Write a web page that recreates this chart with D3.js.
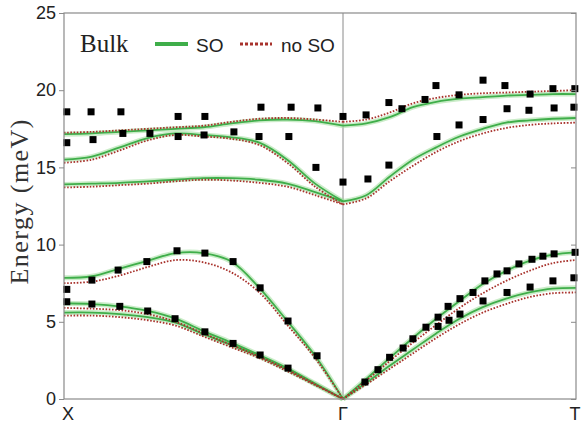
<!DOCTYPE html>
<html lang="en">
<head>
  <meta charset="UTF-8">
  <title>Bulk phonons</title>
  <script src="https://cdn.jsdelivr.net/npm/d3@7/dist/d3.min.js"></script>
  <style>
    body { margin: 0; background: #fff; }
  </style>
</head>
<body>
  <script>
    // k path: X = 0, Γ = 1, T = 2
    const kXG = [0, 0.1, 0.2, 0.3, 0.4, 0.5, 0.6, 0.7, 0.8, 0.9, 1]
    const kGT = [1, 1.1, 1.2, 1.3, 1.4, 1.5, 1.6, 1.7, 1.8, 1.9, 2]
    const kLabels = ['X', 'Γ', 'T']
    const kTicks = [0, 1, 2]
    const yTicks = [0, 5, 10, 15, 20, 25]

    // with spin-orbit, X -> Γ
    const soXG = [
      [5.6, 5.6, 5.5, 5.3, 4.95, 4.2, 3.5, 2.75, 1.9, 0.95, 0],
      [6.2, 6.15, 6.0, 5.7, 5.2, 4.4, 3.65, 2.85, 2.0, 1.0, 0],
      [7.85, 7.95, 8.45, 8.95, 9.45, 9.45, 8.9, 7.2, 5.05, 2.8, 0],
      [13.9, 13.95, 14.0, 14.1, 14.2, 14.3, 14.3, 14.2, 13.95, 13.4, 12.8],
      [15.5, 15.7, 16.3, 16.9, 17.2, 17.1, 16.95, 16.6, 15.5, 13.95, 12.8],
      [17.15, 17.2, 17.3, 17.4, 17.5, 17.6, 17.85, 18.05, 18.1, 18.0, 17.7]
    ]
    // with spin-orbit, Γ -> T
    const soGT = [
      [0, 1.05, 2.15, 3.2, 4.25, 5.2, 5.95, 6.5, 6.9, 7.15, 7.2],
      [0, 1.3, 2.65, 3.95, 5.2, 6.35, 7.45, 8.3, 8.95, 9.35, 9.5],
      [12.8, 13.2, 14.4, 15.5, 16.3, 17.0, 17.5, 17.9, 18.05, 18.15, 18.2],
      [17.7, 17.85, 18.25, 18.9, 19.25, 19.45, 19.55, 19.65, 19.7, 19.75, 19.75]
    ]
    // without spin-orbit
    const noSoXG = [
      [5.4, 5.4, 5.3, 5.1, 4.75, 4.05, 3.35, 2.65, 1.8, 0.9, 0],
      [5.9, 5.85, 5.75, 5.5, 5.0, 4.25, 3.5, 2.75, 1.9, 0.95, 0],
      [7.5, 7.6, 8.0, 8.55, 9.0, 8.85, 8.2, 6.9, 4.8, 2.65, 0],
      [13.7, 13.75, 13.85, 13.95, 14.1, 14.2, 14.15, 14.0, 13.75, 13.2, 12.6],
      [15.3, 15.5, 16.1, 16.75, 17.1, 17.0, 16.85, 16.45, 15.3, 13.75, 12.6],
      [17.25, 17.3, 17.4, 17.5, 17.6, 17.7, 17.95, 18.15, 18.2, 18.1, 17.95]
    ]
    const noSoGT = [
      [0, 0.95, 1.95, 2.95, 3.95, 4.85, 5.6, 6.15, 6.6, 6.85, 6.9],
      [0, 1.2, 2.45, 3.65, 4.8, 5.9, 6.85, 7.65, 8.3, 8.8, 9.0],
      [12.6, 13.0, 14.1, 15.1, 16.0, 16.7, 17.2, 17.55, 17.75, 17.85, 17.9],
      [17.95, 18.1, 18.55, 19.15, 19.5, 19.7, 19.8, 19.85, 19.9, 19.95, 20.0]
    ]

    // measured points
    const expK = [
      0.01, 0.097, 0.204, 0.409, 0.505, 0.706, 0.814, 0.91, 1.0,
      0.01, 0.104, 0.211, 0.308, 0.409, 0.502, 0.609, 0.699, 0.806, 0.903, 1.0,
      0.01, 0.10, 0.194, 0.297, 0.405, 0.505, 0.606, 0.703, 0.803, 0.907,
      0.01, 0.10, 0.20, 0.30, 0.398, 0.505, 0.606, 0.703, 0.803,
      1.099, 1.197, 1.253, 1.352, 1.399, 1.498, 1.601, 1.695, 1.803, 1.901, 1.995,
      1.107, 1.197, 1.403, 1.498, 1.601, 1.704, 1.798, 1.906, 1.991,
      1.094, 1.15, 1.20, 1.258, 1.30, 1.356, 1.408, 1.408, 1.455, 1.451, 1.502, 1.502, 1.558,
      1.601, 1.609, 1.661, 1.704, 1.704, 1.755, 1.811, 1.803, 1.858, 1.906, 1.901, 1.996, 1.991
    ]
    const expE = [
      18.6, 18.6, 18.6, 18.3, 18.3, 18.9, 18.9, 18.85, 18.3,
      16.6, 16.8, 17.2, 17.2, 17.0, 17.1, 17.3, 17.0, 17.0, 15.0, 14.05,
      7.1, 7.7, 8.35, 8.9, 9.6, 9.45, 8.9, 7.2, 5.05, 2.8,
      6.3, 6.15, 6.0, 5.7, 5.2, 4.35, 3.6, 2.85, 2.0,
      18.4, 19.2, 18.8, 19.4, 20.3, 19.7, 20.65, 20.3, 19.75, 20.1, 20.1,
      14.25, 15.15, 17.0, 17.75, 18.1, 18.8, 18.7, 18.85, 18.9,
      1.1, 1.9, 2.7, 3.3, 3.9, 4.65, 5.3, 4.7, 5.1, 6.0, 5.5, 6.5, 6.9,
      6.35, 7.65, 8.1, 6.9, 8.3, 8.75, 9.05, 7.25, 9.25, 9.4, 7.65, 9.5, 7.85
    ]

    const width = 582, height = 423
    const x = d3.scaleLinear().domain([0, 1, 2]).range([64, 343, 576])
    const y = d3.scaleLinear().domain([0, 25]).range([399, 13])

    const svg = d3.select('body').append('svg')
      .attr('width', width)
      .attr('height', height)

    // Γ line
    svg.append('line')
      .attr('x1', x(1)).attr('x2', x(1))
      .attr('y1', y(25)).attr('y2', y(0))
      .attr('stroke', '#8a8a8a').attr('stroke-width', 1)

    const line = d3.line()
      .x(d => x(d[0]))
      .y(d => y(d[1]))
      .curve(d3.curveCatmullRom.alpha(0.5))

    const segs = (ks, bands) => bands.map(b => b.map((e, i) => [ks[i], e]))
    const soPaths = segs(kXG, soXG).concat(segs(kGT, soGT))
    const noSoPaths = segs(kXG, noSoXG).concat(segs(kGT, noSoGT))

    // green glow + core
    svg.append('g').selectAll('path').data(soPaths).join('path')
      .attr('d', line).attr('fill', 'none')
      .attr('stroke', '#9fdc9a').attr('stroke-width', 5).attr('stroke-opacity', 0.55)
    svg.append('g').selectAll('path').data(soPaths).join('path')
      .attr('d', line).attr('fill', 'none')
      .attr('stroke', '#3fae4a').attr('stroke-width', 1.8)

    // red dotted
    svg.append('g').selectAll('path').data(noSoPaths).join('path')
      .attr('d', line).attr('fill', 'none')
      .attr('stroke', '#a8322c').attr('stroke-width', 1.8)
      .attr('stroke-dasharray', '1.6,1.6')

    // measured squares
    svg.append('g').selectAll('rect').data(expK).join('rect')
      .attr('x', d => x(d) - 3.5)
      .attr('y', (d, i) => y(expE[i]) - 3.5)
      .attr('width', 7).attr('height', 7)
      .attr('fill', '#000')

    // frame
    svg.append('rect')
      .attr('x', x(0)).attr('y', y(25))
      .attr('width', x(2) - x(0)).attr('height', y(0) - y(25))
      .attr('fill', 'none').attr('stroke', '#8a8a8a').attr('stroke-width', 1.2)

    const yAxis = d3.axisLeft(y).tickValues(yTicks).tickSize(5).tickPadding(3)
    const gy = svg.append('g').attr('transform', `translate(${x(0)},0)`).call(yAxis)
    gy.select('.domain').remove()
    gy.selectAll('.tick line').attr('stroke', '#8a8a8a')
    gy.selectAll('.tick text')
      .attr('font-family', 'Liberation Sans, Arial, sans-serif')
      .attr('font-size', 18).attr('fill', '#222')

    const yRight = d3.axisLeft(y).tickValues(yTicks).tickSize(5).tickFormat('')
    const gr = svg.append('g').attr('transform', `translate(${x(2)},0)`).call(yRight)
    gr.select('.domain').remove()
    gr.selectAll('.tick line').attr('stroke', '#8a8a8a')

    // k labels
    svg.append('g').selectAll('text').data(kTicks).join('text')
      .attr('x', (d, i) => i === 0 ? x(d) + 4 : (i === 2 ? x(d) - 1 : x(d)))
      .attr('y', 420)
      .attr('text-anchor', 'middle')
      .attr('font-family', 'Liberation Sans, Arial, sans-serif')
      .attr('font-size', 18).attr('fill', '#222')
      .text((d, i) => kLabels[i])

    // y title
    svg.append('text')
      .attr('transform', 'translate(28,202) rotate(-90)')
      .attr('text-anchor', 'middle')
      .attr('font-family', 'Liberation Serif, serif')
      .attr('font-size', 26).attr('fill', '#333')
      .attr('textLength', 165).attr('lengthAdjust', 'spacing')
      .text('Energy (meV)')

    // legend
    svg.append('text')
      .attr('x', 80).attr('y', 52)
      .attr('font-family', 'Liberation Serif, serif')
      .attr('font-size', 25).attr('fill', '#222')
      .text('Bulk')
    svg.append('line')
      .attr('x1', 155).attr('x2', 188).attr('y1', 44).attr('y2', 44)
      .attr('stroke', '#3fae4a').attr('stroke-width', 4)
    svg.append('text')
      .attr('x', 196).attr('y', 52)
      .attr('font-family', 'Liberation Sans, Arial, sans-serif')
      .attr('font-size', 19).attr('fill', '#222')
      .text('SO')
    svg.append('line')
      .attr('x1', 240).attr('x2', 272).attr('y1', 44).attr('y2', 44)
      .attr('stroke', '#a8322c').attr('stroke-width', 3)
      .attr('stroke-dasharray', '3,2')
    svg.append('text')
      .attr('x', 281).attr('y', 52)
      .attr('font-family', 'Liberation Sans, Arial, sans-serif')
      .attr('font-size', 19).attr('fill', '#222')
      .text('no SO')
  </script>
</body>
</html>
